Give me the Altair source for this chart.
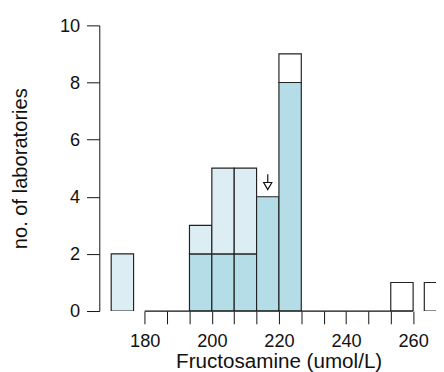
import altair as alt
import pandas as pd

# ---- data ----
bin_width = 20 / 3
bin_starts = [170.0, 193.333, 200.0, 206.667, 213.333, 220.0, 253.333, 263.333]
dark_counts = [0, 2, 2, 2, 4, 8, 0, 0]
light_counts = [2, 1, 3, 3, 0, 0, 0, 0]
white_counts = [0, 0, 0, 0, 0, 1, 1, 1]
groups = ["dark", "light", "white"]
group_colors = ["#b5dde7", "#dceef4", "#ffffff"]

x_tick_values = [180, 186.667, 193.333, 200, 206.667, 213.333, 220,
                 226.667, 233.333, 240, 246.667, 253.333, 260]
y_tick_values = [0, 2, 4, 6, 8, 10]
axis_line_range = [180, 260]

target_value = 216.667
arrow_shaft = [4.79, 4.49]
arrow_head = 4.375

# ---- build tables ----
rows = []
for i, s in enumerate(bin_starts):
    base = 0
    for g, counts in zip(groups, [dark_counts, light_counts, white_counts]):
        c = counts[i]
        if c > 0:
            rows.append({"start": s, "end": s + bin_width, "group": g,
                         "y0": base, "y1": base + c})
            base += c
bars_df = pd.DataFrame(rows)
axis_df = pd.DataFrame({"start": [axis_line_range[0]], "end": [axis_line_range[1]], "y0": [0]})
shaft_df = pd.DataFrame({"start": [target_value], "y0": [arrow_shaft[0]], "y1": [arrow_shaft[1]]})
head_df = pd.DataFrame({"start": [target_value], "y0": [arrow_head]})

FONT = "Liberation Sans"
INK = "#111111"

x_scale = alt.Scale(domain=[166.45, 266.82], nice=False, zero=False)
y_scale = alt.Scale(domain=[0, 10], nice=False, zero=True)

x_axis = alt.Axis(
    values=x_tick_values,
    labelExpr="abs(datum.value - round(datum.value/20)*20) < 0.01 ? format(datum.value, 'd') : ''",
    domain=False, grid=False, ticks=True, tickSize=13, tickColor=INK, tickWidth=1,
    labelFont=FONT, labelFontSize=18.5, labelColor=INK, labelPadding=8,
    labelOverlap=False, labelFlush=False, labelBound=False,
    titleFont=FONT, titleFontSize=21, titleFontWeight="normal", titleColor=INK,
    titleX=182.7, titleY=58, titleAlign="center", titleBaseline="alphabetic",
)
y_axis = alt.Axis(
    values=y_tick_values, domain=True, domainColor=INK, domainWidth=1,
    grid=False, tickSize=13, tickColor=INK, tickWidth=1,
    labelFont=FONT, labelFontSize=18.5, labelColor=INK, labelPadding=7,
    labelOverlap=False,
    titleFont=FONT, titleFontSize=20.5, titleFontWeight="normal", titleColor=INK,
    titleX=-74, titleY=145.5, titleAlign="center", titleBaseline="alphabetic",
    titleAngle=-90,
)
X_TITLE = "Fructosamine (umol/L)"
Y_TITLE = "no. of laboratories"


def xenc():
    return alt.X("start:Q", scale=x_scale, axis=x_axis, title=X_TITLE)


def yenc():
    return alt.Y("y0:Q", scale=y_scale, axis=y_axis, title=Y_TITLE)


bars = alt.Chart(bars_df).mark_rect(stroke="#222222", strokeWidth=1.2, clip=True).encode(
    x=xenc(), x2="end:Q", y=yenc(), y2="y1:Q",
    color=alt.Color("group:N", scale=alt.Scale(domain=groups, range=group_colors), legend=None),
)

axis_line = alt.Chart(axis_df).mark_rule(color=INK, strokeWidth=1.3).encode(
    x=xenc(), x2="end:Q", y=yenc()
)

shaft = alt.Chart(shaft_df).mark_rule(color=INK, strokeWidth=1.2).encode(
    x=xenc(), y=yenc(), y2="y1:Q"
)
head = alt.Chart(head_df).mark_point(
    shape="triangle-down", filled=True, fill="white", stroke=INK, strokeWidth=1.2,
    size=69, opacity=1,
).encode(x=xenc(), y=yenc())

chart = alt.layer(bars, axis_line, shaft, head).properties(
    width=343, height=291,
    autosize=alt.AutoSizeParams(type="none"),
    padding={"left": 93, "top": 14.3, "right": 0, "bottom": 58.7},
    background="white",
).configure_view(stroke=None)

chart.save("out.html", embed_options={"renderer": "svg", "actions": False})
